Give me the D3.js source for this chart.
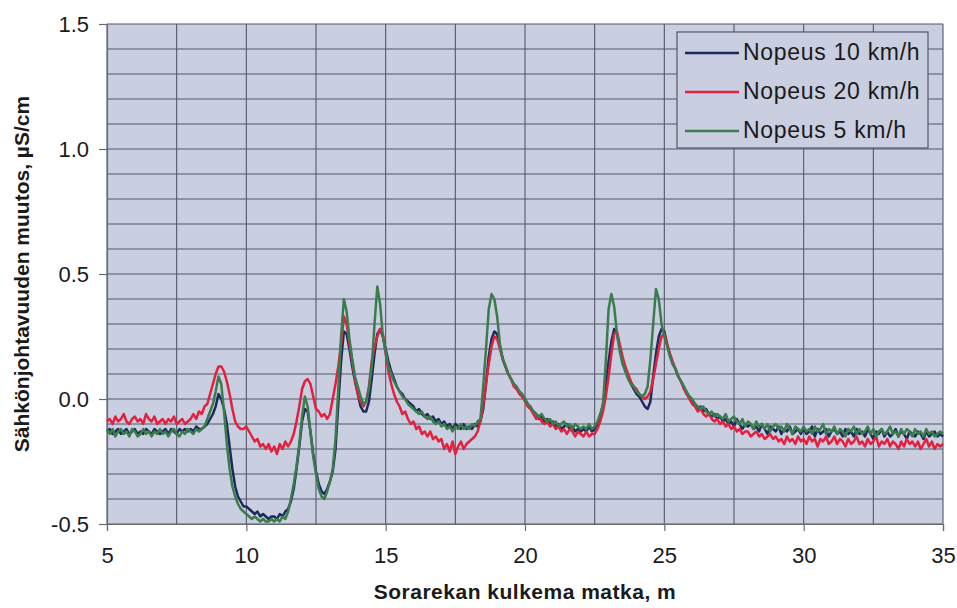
<!DOCTYPE html>
<html>
<head>
<meta charset="utf-8">
<script src="https://cdn.jsdelivr.net/npm/d3@7"></script>
<style>
  html, body { margin: 0; padding: 0; background: #ffffff; }
  svg { display: block; }
  text { font-family: Arial, "Liberation Sans", sans-serif; fill: #1a1a1a; }
</style>
</head>
<body>
<svg id="chart" width="957" height="608"></svg>
<script>
// Measured conductivity change (µS/cm) along the gravel sled path, sampled every 0.1 m from 5 m to 35 m
const distanceStart = 5;
const distanceStep = 0.1;

const speed10 = [
  -0.13,-0.12,-0.14,-0.13,-0.12,-0.14,-0.13,-0.12,-0.14,-0.13,
  -0.12,-0.14,-0.13,-0.14,-0.12,-0.13,-0.14,-0.12,-0.13,-0.14,
  -0.13,-0.12,-0.14,-0.12,-0.13,-0.14,-0.12,-0.13,-0.12,-0.13,
  -0.12,-0.13,-0.11,-0.12,-0.12,-0.11,-0.10,-0.08,-0.06,-0.03,
   0.02, 0.00,-0.04,-0.10,-0.19,-0.28,-0.35,-0.39,-0.41,-0.43,
  -0.43,-0.44,-0.45,-0.46,-0.45,-0.47,-0.46,-0.47,-0.48,-0.47,
  -0.47,-0.48,-0.46,-0.47,-0.45,-0.44,-0.41,-0.36,-0.28,-0.19,
  -0.09,-0.04,-0.05,-0.13,-0.22,-0.29,-0.34,-0.37,-0.38,-0.36,
  -0.33,-0.29,-0.20,-0.02, 0.15, 0.27, 0.26, 0.20, 0.13, 0.07,
   0.02,-0.03,-0.05,-0.05,-0.01, 0.08, 0.18, 0.26, 0.28, 0.25,
   0.20, 0.15, 0.11, 0.08, 0.05, 0.03, 0.02, 0.00,-0.01,-0.02,
  -0.03,-0.05,-0.04,-0.06,-0.07,-0.06,-0.08,-0.07,-0.09,-0.08,
  -0.10,-0.09,-0.11,-0.10,-0.12,-0.10,-0.11,-0.12,-0.10,-0.12,
  -0.11,-0.12,-0.10,-0.11,-0.09,-0.04, 0.06, 0.17, 0.24, 0.27,
   0.26, 0.21, 0.16, 0.13, 0.10, 0.08, 0.06, 0.04, 0.03, 0.01,
   0.00,-0.02,-0.04,-0.05,-0.06,-0.08,-0.07,-0.09,-0.08,-0.10,
  -0.09,-0.11,-0.10,-0.12,-0.11,-0.10,-0.12,-0.11,-0.13,-0.12,
  -0.13,-0.12,-0.13,-0.11,-0.13,-0.12,-0.10,-0.07,-0.02, 0.06,
   0.15, 0.23, 0.28, 0.26, 0.21, 0.16, 0.12, 0.09, 0.06, 0.04,
   0.02, 0.01,-0.01,-0.03,-0.04,-0.01, 0.09, 0.18, 0.25, 0.28,
   0.27, 0.22, 0.18, 0.14, 0.12, 0.09, 0.07, 0.05, 0.02, 0.01,
  -0.01,-0.02,-0.04,-0.03,-0.05,-0.04,-0.06,-0.07,-0.06,-0.08,
  -0.07,-0.09,-0.08,-0.10,-0.09,-0.11,-0.08,-0.10,-0.12,-0.10,
  -0.11,-0.10,-0.12,-0.11,-0.13,-0.10,-0.12,-0.14,-0.11,-0.12,
  -0.13,-0.11,-0.14,-0.12,-0.13,-0.11,-0.14,-0.13,-0.12,-0.14,
  -0.12,-0.14,-0.13,-0.11,-0.15,-0.12,-0.14,-0.13,-0.12,-0.15,
  -0.13,-0.12,-0.14,-0.13,-0.15,-0.12,-0.14,-0.13,-0.15,-0.12,
  -0.14,-0.13,-0.15,-0.12,-0.14,-0.16,-0.13,-0.14,-0.12,-0.15,
  -0.13,-0.15,-0.14,-0.12,-0.15,-0.13,-0.14,-0.16,-0.13,-0.14,
  -0.15,-0.13,-0.14,-0.16,-0.13,-0.15,-0.14,-0.13,-0.15,-0.14,
  -0.15
];

const speed20 = [
  -0.09,-0.08,-0.10,-0.07,-0.09,-0.08,-0.06,-0.09,-0.10,-0.08,
  -0.07,-0.09,-0.08,-0.10,-0.06,-0.08,-0.09,-0.07,-0.10,-0.09,
  -0.08,-0.10,-0.08,-0.09,-0.07,-0.10,-0.09,-0.08,-0.10,-0.09,
  -0.08,-0.06,-0.08,-0.05,-0.06,-0.03,-0.02, 0.02, 0.06, 0.10,
   0.13, 0.13, 0.11, 0.07, 0.02,-0.04,-0.09,-0.11,-0.12,-0.12,
  -0.11,-0.13,-0.15,-0.17,-0.16,-0.19,-0.18,-0.20,-0.18,-0.21,
  -0.19,-0.22,-0.18,-0.20,-0.17,-0.19,-0.17,-0.14,-0.09,-0.03,
   0.04, 0.07, 0.08, 0.06, 0.01,-0.04,-0.05,-0.07,-0.06,-0.08,
  -0.06, 0.00, 0.06, 0.13, 0.22, 0.33, 0.30, 0.22, 0.15, 0.08,
   0.02,-0.01,-0.03,-0.01, 0.05, 0.15, 0.21, 0.25, 0.28, 0.26,
   0.18, 0.11, 0.06, 0.02,-0.01,-0.03,-0.06,-0.05,-0.08,-0.10,
  -0.09,-0.12,-0.11,-0.14,-0.13,-0.15,-0.13,-0.16,-0.15,-0.17,
  -0.16,-0.20,-0.18,-0.21,-0.17,-0.22,-0.19,-0.17,-0.20,-0.18,
  -0.17,-0.16,-0.15,-0.13,-0.09,-0.02, 0.06, 0.14, 0.21, 0.25,
   0.24, 0.20, 0.16, 0.13, 0.10, 0.08, 0.05, 0.04, 0.02, 0.01,
  -0.01,-0.03,-0.04,-0.06,-0.08,-0.07,-0.09,-0.10,-0.09,-0.11,
  -0.10,-0.12,-0.11,-0.13,-0.12,-0.14,-0.12,-0.13,-0.15,-0.13,
  -0.14,-0.15,-0.13,-0.15,-0.14,-0.14,-0.12,-0.09,-0.05, 0.01,
   0.09, 0.18, 0.26, 0.27, 0.22, 0.17, 0.13, 0.10, 0.07, 0.05,
   0.04, 0.02, 0.01, 0.00, 0.01, 0.03, 0.08, 0.14, 0.20, 0.25,
   0.26, 0.22, 0.18, 0.15, 0.12, 0.09, 0.07, 0.04, 0.02, 0.00,
  -0.02,-0.03,-0.05,-0.04,-0.06,-0.07,-0.06,-0.08,-0.09,-0.08,
  -0.10,-0.09,-0.11,-0.10,-0.12,-0.11,-0.13,-0.12,-0.14,-0.13,
  -0.13,-0.15,-0.14,-0.13,-0.15,-0.14,-0.16,-0.15,-0.14,-0.16,
  -0.15,-0.17,-0.16,-0.18,-0.15,-0.17,-0.16,-0.18,-0.15,-0.17,
  -0.16,-0.18,-0.15,-0.17,-0.16,-0.19,-0.16,-0.17,-0.15,-0.18,
  -0.17,-0.15,-0.18,-0.16,-0.17,-0.19,-0.16,-0.18,-0.17,-0.15,
  -0.18,-0.17,-0.19,-0.16,-0.18,-0.17,-0.15,-0.19,-0.17,-0.18,
  -0.16,-0.19,-0.17,-0.18,-0.20,-0.17,-0.19,-0.16,-0.18,-0.17,
  -0.19,-0.17,-0.20,-0.18,-0.16,-0.19,-0.17,-0.20,-0.18,-0.19,
  -0.18
];

const speed5 = [
  -0.12,-0.14,-0.12,-0.15,-0.13,-0.12,-0.14,-0.13,-0.15,-0.12,
  -0.13,-0.15,-0.14,-0.12,-0.14,-0.13,-0.15,-0.13,-0.14,-0.12,
  -0.14,-0.13,-0.15,-0.13,-0.12,-0.14,-0.15,-0.13,-0.14,-0.12,
  -0.13,-0.14,-0.12,-0.13,-0.12,-0.11,-0.08,-0.05,-0.02, 0.03,
   0.09, 0.06,-0.05,-0.18,-0.28,-0.35,-0.39,-0.42,-0.44,-0.45,
  -0.46,-0.47,-0.48,-0.47,-0.48,-0.49,-0.48,-0.49,-0.49,-0.48,
  -0.49,-0.48,-0.49,-0.47,-0.48,-0.45,-0.40,-0.34,-0.27,-0.18,
  -0.07, 0.01,-0.03,-0.13,-0.23,-0.30,-0.36,-0.39,-0.40,-0.37,
  -0.33,-0.28,-0.16, 0.04, 0.25, 0.40, 0.35, 0.24, 0.16, 0.09,
   0.05, 0.01,-0.02,-0.01, 0.04, 0.13, 0.30, 0.45, 0.38, 0.25,
   0.19, 0.13, 0.10, 0.07, 0.05, 0.03, 0.01, 0.00,-0.02,-0.03,
  -0.04,-0.05,-0.06,-0.05,-0.07,-0.08,-0.07,-0.09,-0.10,-0.09,
  -0.11,-0.10,-0.12,-0.11,-0.13,-0.11,-0.12,-0.10,-0.12,-0.11,
  -0.12,-0.10,-0.11,-0.09,-0.08, 0.05, 0.20, 0.36, 0.42, 0.40,
   0.33, 0.22, 0.16, 0.13, 0.10, 0.08, 0.06, 0.05, 0.03, 0.02,
   0.00,-0.02,-0.03,-0.05,-0.06,-0.07,-0.06,-0.08,-0.09,-0.08,
  -0.10,-0.09,-0.11,-0.10,-0.09,-0.11,-0.10,-0.12,-0.10,-0.11,
  -0.12,-0.11,-0.12,-0.10,-0.12,-0.11,-0.09,-0.06,-0.02, 0.15,
   0.36, 0.42, 0.37, 0.26, 0.19, 0.14, 0.11, 0.08, 0.06, 0.05,
   0.03, 0.02, 0.01, 0.02, 0.05, 0.16, 0.30, 0.44, 0.40, 0.30,
   0.25, 0.21, 0.17, 0.14, 0.12, 0.09, 0.07, 0.05, 0.03, 0.01,
   0.00,-0.02,-0.03,-0.04,-0.03,-0.05,-0.06,-0.05,-0.07,-0.06,
  -0.07,-0.08,-0.06,-0.09,-0.08,-0.07,-0.09,-0.10,-0.08,-0.11,
  -0.09,-0.10,-0.12,-0.09,-0.11,-0.10,-0.12,-0.10,-0.13,-0.11,
  -0.10,-0.12,-0.11,-0.13,-0.10,-0.12,-0.14,-0.11,-0.12,-0.13,
  -0.11,-0.13,-0.12,-0.14,-0.11,-0.13,-0.12,-0.10,-0.14,-0.12,
  -0.13,-0.11,-0.14,-0.12,-0.13,-0.15,-0.12,-0.13,-0.11,-0.14,
  -0.12,-0.14,-0.13,-0.11,-0.14,-0.12,-0.15,-0.13,-0.12,-0.14,
  -0.13,-0.11,-0.14,-0.13,-0.15,-0.12,-0.14,-0.12,-0.13,-0.15,
  -0.12,-0.14,-0.13,-0.15,-0.12,-0.14,-0.13,-0.15,-0.14,-0.13,
  -0.14
];

const seriesNames = ["Nopeus 10 km/h", "Nopeus 20 km/h", "Nopeus 5 km/h"];
const seriesColors = ["#1d2b5c", "#e3203f", "#3b7c4c"];
const xTicks = [5, 10, 15, 20, 25, 30, 35];
const yTicks = [-0.5, 0.0, 0.5, 1.0, 1.5];
const xTitle = "Sorarekan kulkema matka, m";
const yTitle = "Sähkönjohtavuuden muutos, µS/cm";

const svg = d3.select("#chart");
const plot = { left: 107, right: 943, top: 24, bottom: 524 };

const x = d3.scaleLinear().domain([5, 35]).range([plot.left, plot.right]);
const y = d3.scaleLinear().domain([-0.5, 1.5]).range([plot.bottom, plot.top]);

// plot background
svg.append("rect")
  .attr("x", plot.left).attr("y", plot.top)
  .attr("width", plot.right - plot.left).attr("height", plot.bottom - plot.top)
  .attr("fill", "#c9cee0");

// grid: every 2.5 m and every 0.1 µS/cm
const gridColor = "#54576a";
svg.append("g")
  .selectAll("line")
  .data(d3.range(0, 13).map(i => 5 + i * 2.5))
  .join("line")
  .attr("x1", d => x(d)).attr("x2", d => x(d))
  .attr("y1", plot.top).attr("y2", plot.bottom)
  .attr("stroke", gridColor).attr("stroke-width", 1.1);
svg.append("g")
  .selectAll("line")
  .data(d3.range(0, 21).map(i => -0.5 + i * 0.1))
  .join("line")
  .attr("x1", plot.left).attr("x2", plot.right)
  .attr("y1", d => y(d)).attr("y2", d => y(d))
  .attr("stroke", gridColor).attr("stroke-width", 1.1);

// axes (plain hyphen for negative numbers)
const xAxis = d3.axisBottom(x).tickValues(xTicks).tickSize(7).tickPadding(16)
  .tickFormat(d => String(d));
const gx = svg.append("g").attr("transform", `translate(0,${plot.bottom})`).call(xAxis);
const yAxis = d3.axisLeft(y).tickValues(yTicks).tickSize(8).tickPadding(10)
  .tickFormat(d => d.toFixed(1));
const gy = svg.append("g").attr("transform", `translate(${plot.left},0)`).call(yAxis);
[gx, gy].forEach(g => {
  g.select(".domain").attr("stroke", "#6a6a72").attr("stroke-width", 1.2);
  g.selectAll(".tick line").attr("stroke", "#6a6a72").attr("stroke-width", 1.2);
  g.selectAll(".tick text")
    .attr("font-size", 22).attr("fill", "#1a1a1a")
    .attr("font-family", "Arial, 'Liberation Sans', sans-serif");
});

// series lines
const line = d3.line()
  .x((d, i) => x(distanceStart + i * distanceStep))
  .y(d => y(d));
[speed10, speed20, speed5].forEach((values, k) => {
  svg.append("path")
    .datum(values)
    .attr("fill", "none")
    .attr("stroke", seriesColors[k])
    .attr("stroke-width", 2.5)
    .attr("stroke-linejoin", "round")
    .attr("d", line);
});

// legend
const legend = svg.append("g");
legend.append("rect")
  .attr("x", 677).attr("y", 32).attr("width", 251).attr("height", 116)
  .attr("fill", "#c9cee0").attr("stroke", "#54576a").attr("stroke-width", 1.2);
seriesNames.forEach((name, k) => {
  const cy = 53 + k * 39;
  legend.append("line")
    .attr("x1", 685).attr("x2", 739).attr("y1", cy).attr("y2", cy)
    .attr("stroke", seriesColors[k]).attr("stroke-width", 2.5);
  legend.append("text")
    .attr("x", 743).attr("y", cy + 7)
    .attr("font-size", 23)
    .attr("letter-spacing", 0.7)
    .text(name);
});

// axis titles
svg.append("text")
  .attr("x", (plot.left + plot.right) / 2).attr("y", 599)
  .attr("text-anchor", "middle")
  .attr("font-size", 21).attr("font-weight", "bold")
  .attr("letter-spacing", 0.5)
  .text(xTitle);
svg.append("text")
  .attr("transform", `translate(29,${(plot.top + plot.bottom) / 2}) rotate(-90)`)
  .attr("text-anchor", "middle")
  .attr("font-size", 21).attr("font-weight", "bold")
  .text(yTitle);
</script>
</body>
</html>
